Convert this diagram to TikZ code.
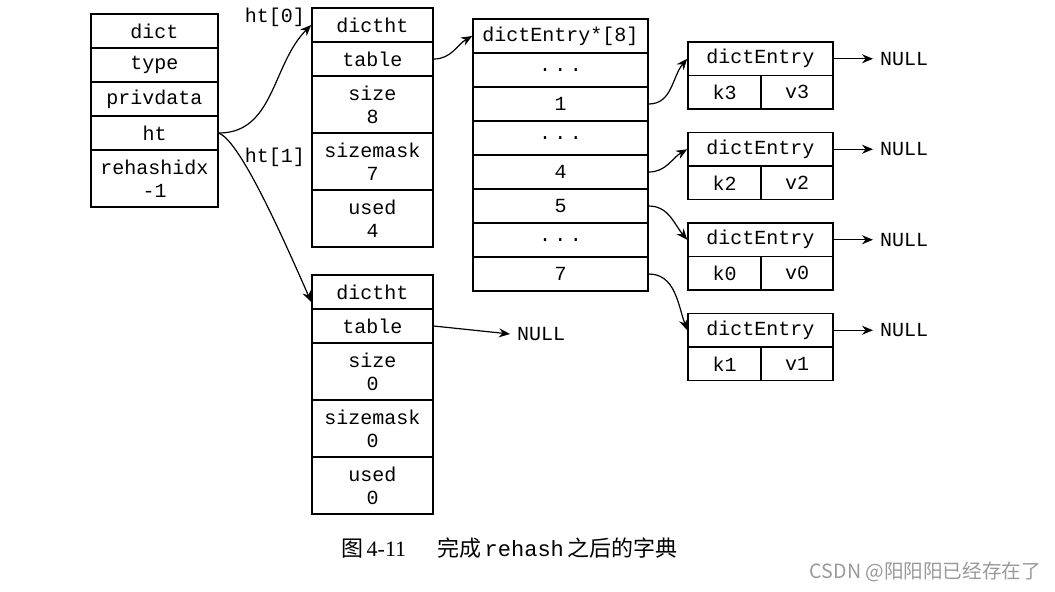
\documentclass[tikz,border=0pt]{standalone}
\usepackage{fontspec}
\setmainfont{Liberation Serif}
\setmonofont{Liberation Mono}
\newfontfamily\cjk{Noto Sans CJK SC}
\usetikzlibrary{arrows.meta}
\newcommand\skipdots{.\,.\,.}
\tikzset{
  cell/.style={draw, line width=0.8pt, inner sep=0pt, align=center,
    font=\ttfamily\fontsize{10}{11.5}\selectfont},
  txt/.style={font=\ttfamily\fontsize{10}{11.5}\selectfont},
  ptr/.style={-{Stealth[length=5.5pt,width=4.5pt]}, line width=0.6pt},
}
\begin{document}
\begin{tikzpicture}[x=0.5pt, y=-0.5pt]
  \useasboundingbox (0,0) rectangle (1055,591);
  % dict
  \foreach \n/\t/\y in {dict/dict/31, type/type/65, priv/privdata/99, ht/ht/133}
    \node[cell, minimum width=63.5pt, minimum height=17pt] (\n) at (154.5,\y) {\t};
  \node[cell, minimum width=63.5pt, minimum height=28.5pt] (rehash) at (154.5,178.5) {rehashidx\\-1};
  % ht[0]
  \node[cell, minimum width=60.5pt, minimum height=17pt] (t0head) at (372.5,25) {dictht};
  \node[cell, minimum width=60.5pt, minimum height=17pt] (t0table) at (372.5,59) {table};
  \node[cell, minimum width=60.5pt, minimum height=28.5pt] (t0size) at (372.5,104.5) {size\\8};
  \node[cell, minimum width=60.5pt, minimum height=28.5pt] (t0mask) at (372.5,161.5) {sizemask\\7};
  \node[cell, minimum width=60.5pt, minimum height=28.5pt] (t0used) at (372.5,218.5) {used\\4};
  % ht[1]
  \node[cell, minimum width=60.5pt, minimum height=17pt] (t1head) at (372.5,292) {dictht};
  \node[cell, minimum width=60.5pt, minimum height=17pt] (t1table) at (372.5,326) {table};
  \node[cell, minimum width=60.5pt, minimum height=28.5pt] (t1size) at (372.5,371.5) {size\\0};
  \node[cell, minimum width=60.5pt, minimum height=28.5pt] (t1mask) at (372.5,428.5) {sizemask\\0};
  \node[cell, minimum width=60.5pt, minimum height=28.5pt] (t1used) at (372.5,485.5) {used\\0};
  \node[txt, anchor=west] (t1null) at (510,334) {NULL};
  \node[txt] (lbl0) at (275,17) {ht[0]};
  \node[txt] (lbl1) at (275,157) {ht[1]};
  % table
  \node[cell, minimum width=87.5pt, minimum height=17pt] (arr) at (560.5,36) {dictEntry*[8]};
  \foreach \i/\t in {1/\skipdots, 2/1, 3/\skipdots, 4/4, 5/5, 6/\skipdots, 7/7}
    \node[cell, minimum width=87.5pt, minimum height=17pt] (slot\i) at (560.5,{36+34*\i}) {\t};
  % entries
  \foreach \i/\k/\v in {0/k3/v3, 1/k2/v2, 2/k0/v0, 3/k1/v1} {
    \node[cell, minimum width=72.5pt, minimum height=16.75pt] (ent\i) at (760.5,{58.75+90.5*\i}) {dictEntry};
    \node[cell, minimum width=36.5pt, minimum height=16.75pt] (key\i) at (724.5,{92.25+90.5*\i}) {\k};
    \node[cell, minimum width=36pt, minimum height=16.75pt] (val\i) at (797,{92.25+90.5*\i}) {\v};
    \node[txt, anchor=west] (null\i) at (873,{58.75+90.5*\i}) {NULL};
    \draw[ptr] (ent\i.east) -- (null\i.west);
  }
  \draw[ptr] (ht.east) to[out=0,in=225] (t0head.west);
  \draw[ptr] (ht.east) .. controls +(20,8) and +(-35,-80) .. ([yshift=-5pt]t1head.west);
  \draw[ptr] (t0table.east) to[out=0,in=210] (arr.west);
  \draw[ptr] (t1table.east) -- (t1null.west);
  \draw[ptr] (slot2.east) to[out=0,in=230] (ent0.west);
  \draw[ptr] (slot4.east) to[out=0,in=210] (ent1.west);
  \draw[ptr] (slot5.east) to[out=0,in=130] (ent2.west);
  \draw[ptr] (slot7.east) to[out=0,in=110] (ent3.west);
  % caption
  \node[anchor=west, font=\fontsize{11}{13}\selectfont] (caption) at (334,548)
    {{\cjk 图}\,4-11\hspace{1.4em}{\cjk 完成}\,\texttt{rehash}\,{\cjk 之后的字典}};
  \node[anchor=east, text=gray!80, font=\cjk\fontsize{9.8}{11}\selectfont] (mark) at (1048,572)
    {CSDN @阳阳阳已经存在了};
\end{tikzpicture}
\end{document}
